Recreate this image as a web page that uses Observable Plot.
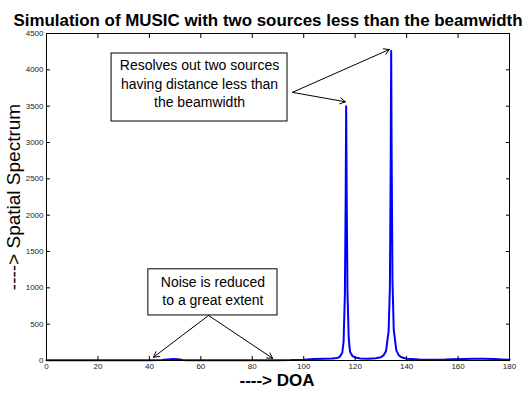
<!DOCTYPE html>
<html><head><meta charset="utf-8">
<script src="https://cdn.jsdelivr.net/npm/d3@7"></script>
<script src="https://cdn.jsdelivr.net/npm/@observablehq/plot@0.6"></script>
<style>body{margin:0;background:#fff;} svg{display:block;}</style>
</head><body><div id="chart"></div>
<script>
const titleText = "Simulation of MUSIC with two sources less than the beamwidth";
const xLabel = "----> DOA";
const yLabel = "----> Spatial Spectrum";
const xTicks = [0,20,40,60,80,100,120,140,160,180];
const yTicks = [0,500,1000,1500,2000,2500,3000,3500,4000,4500];

const doa = [0,10,20,30,40,45,47,49,51,53,55,60,70,80,90,95,100,104,108,111,113,114,115,115.5,116,116.3,116.5,116.7,117,117.5,118,119,120,122,125,128,130,131,132,133,133.5,133.8,134,134.2,134.5,135,136,137,138,140,145,150,155,158,162,166,170,174,177,180];
const spectrum = [3,3,3,3,4,6,14,20,16,8,4,3,3,3,4,6,12,20,24,28,35,50,110,260,900,2200,3500,2300,950,300,120,60,40,28,25,30,45,70,130,400,1000,2600,4260,2700,1100,420,140,70,45,25,15,12,14,18,22,24,24,22,15,10];

// annotation boxes (data coordinates)
const boxes = [
  {x1: 25.3, x2: 93.7, y1: 3289, y2: 4225},
  {x1: 39.6, x2: 89.8, y1: 620, y2: 1255}
];
const notes = [
  {x: 59.5, y: 4060, t: "Resolves out two sources"},
  {x: 59.5, y: 3800, t: "having distance less than"},
  {x: 59.5, y: 3545, t: "the beamwidth"},
  {x: 64.7, y: 1080, t: "Noise is reduced"},
  {x: 64.7, y: 820, t: "to a great extent"}
];
const arrows = [
  {x1: 95.6, y1: 3690, x2: 116.2, y2: 3560},
  {x1: 95.6, y1: 3690, x2: 133.3, y2: 4280},
  {x1: 63.0, y1: 620, x2: 41.6, y2: 45},
  {x1: 63.0, y1: 620, x2: 87.9, y2: 30}
];

const data = doa.map((d, i) => ({doa: d, p: spectrum[i]}));

const chart = Plot.plot({
  width: 528, height: 394,
  marginLeft: 46, marginRight: 19, marginTop: 33, marginBottom: 34,
  style: {fontFamily: "Liberation Sans, Arial, sans-serif", background: "#fff"},
  x: {domain: [0, 180]},
  y: {domain: [0, 4500]},
  marks: [
    Plot.line(data, {x: "doa", y: "p", stroke: "#0000ff", strokeWidth: 2}),
    Plot.rect(boxes, {x1: "x1", x2: "x2", y1: "y1", y2: "y2", fill: "white", stroke: "black", strokeWidth: 1}),
    Plot.text(notes, {x: "x", y: "y", text: "t", fontSize: 14, fill: "black"}),
    Plot.arrow(arrows, {x1: "x1", y1: "y1", x2: "x2", y2: "y2", stroke: "black", strokeWidth: 1, headLength: 9, bend: 0}),
    Plot.frame({stroke: "black", strokeWidth: 1}),
    Plot.axisX({ticks: xTicks, tickSize: 0, tickPadding: 3, fontSize: 8, label: null, fill: "#222", tickFormat: d => String(d)}),
    Plot.axisX({ticks: xTicks, anchor: "bottom", tickSize: -4, tickFormat: () => "", label: null}),
    Plot.axisX({ticks: xTicks, anchor: "top", tickSize: -4, tickFormat: () => "", label: null}),
    Plot.axisY({ticks: yTicks, tickSize: 0, tickPadding: 3, fontSize: 8, label: null, fill: "#222", tickFormat: d => String(d)}),
    Plot.axisY({ticks: yTicks, anchor: "left", tickSize: -4, tickFormat: () => "", label: null}),
    Plot.axisY({ticks: yTicks, anchor: "right", tickSize: -4, tickFormat: () => "", label: null}),
    Plot.text([titleText], {frameAnchor: "top", dy: -19, dx: -10, fontSize: 16, fontWeight: "bold", fill: "black"}),
    Plot.text([xLabel], {frameAnchor: "bottom", dy: 25, dx: -1, fontSize: 17, fontWeight: "bold", fill: "black"}),
    Plot.text([yLabel], {frameAnchor: "left", textAnchor: "middle", dx: -33, rotate: -90, fontSize: 19, fill: "black"})
  ]
});
const svg = d3.select(chart);
svg.selectAll("text").filter(function() { return this.textContent === titleText; })
  .attr("textLength", 509).attr("lengthAdjust", "spacingAndGlyphs");
document.getElementById("chart").appendChild(chart);
</script></body></html>
